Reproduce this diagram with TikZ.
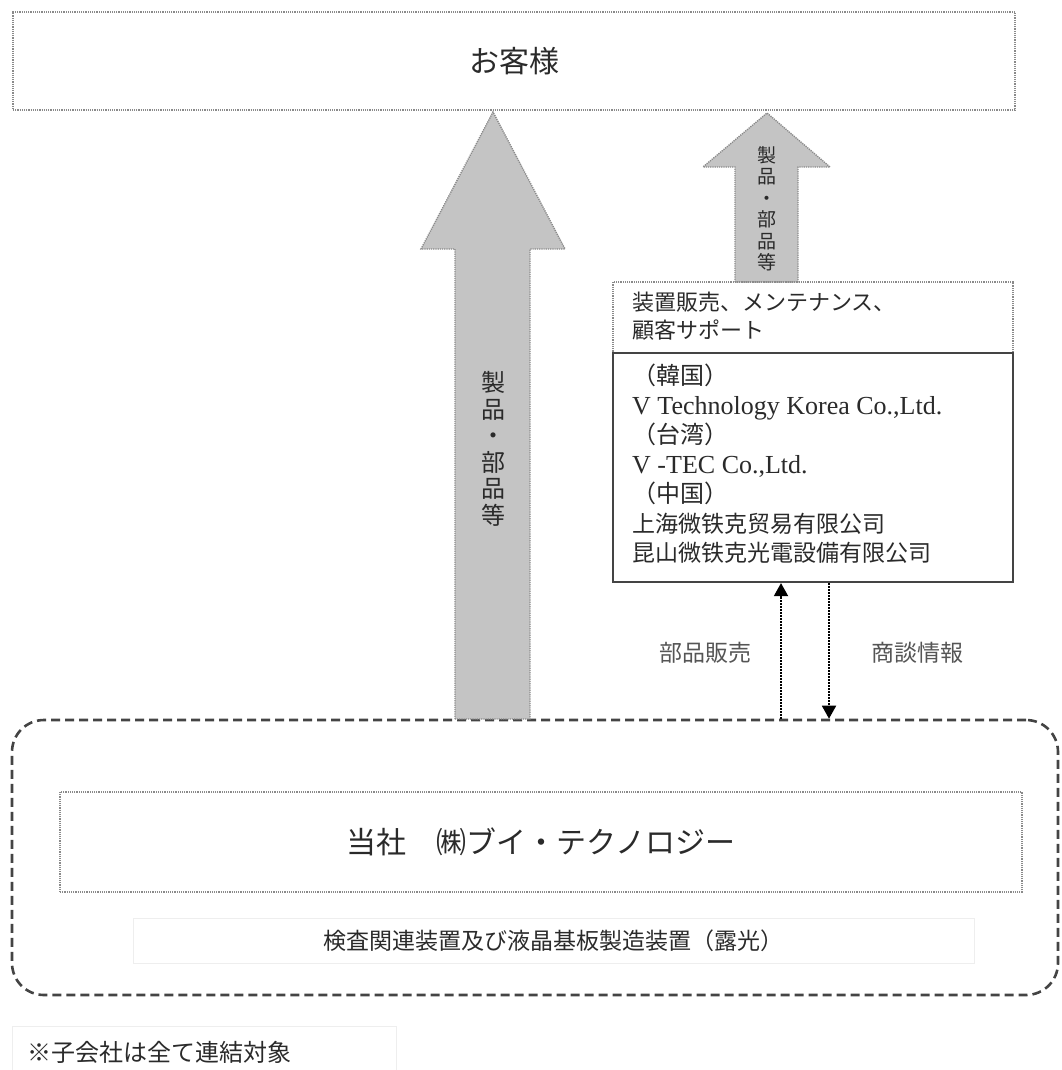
\documentclass[tikz,border=0pt]{standalone}
\usepackage{fontspec}
\setmainfont{Liberation Serif}
\newfontfamily\jp{Noto Sans CJK JP}
\usetikzlibrary{arrows.meta}
\definecolor{txt}{HTML}{2A2A2A}
\definecolor{lbl}{HTML}{555555}
\definecolor{afill}{HTML}{C4C4C4}
\definecolor{dotc}{HTML}{8A8A8A}
\definecolor{dashc}{HTML}{444444}
\definecolor{faint}{HTML}{EEEEEE}
\begin{document}
\begin{tikzpicture}[x=1pt,y=-1pt,
  dotbox/.style={draw=dotc, line width=1.8pt, dash pattern=on 1.2pt off 1pt, inner sep=0pt},
  faintbox/.style={draw=faint, line width=0.8pt, inner sep=0pt},
  bigarrow/.style={fill=afill, draw=dotc, line width=1.4pt, dash pattern=on 1.2pt off 1pt},
  conn/.style={draw=black, line width=1.8pt, dash pattern=on 1.5pt off 1.5pt,
    -{Triangle[length=13pt,width=14pt]}},
  lbltxt/.style={text=lbl, font=\jp\fontsize{23}{27}\selectfont, inner sep=0pt}
]
\useasboundingbox (0,0) rectangle (1061,1070);

% customer box
\node[dotbox, minimum width=1002pt, minimum height=98pt,
      font=\jp\fontsize{30}{36}\selectfont, text=txt] (cust) at (514,61) {お客様};

% group dashed box
\node[draw=dashc, line width=2.6pt, dash pattern=on 9pt off 5pt, rounded corners=32pt,
      minimum width=1046pt, minimum height=275pt, inner sep=0pt] (grp) at (535,857.5) {};

% company box
\node[dotbox, minimum width=962pt, minimum height=100pt,
      font=\jp\fontsize{30}{36}\selectfont, text=txt] (comp) at (541,842) {当社　㈱ブイ・テクノロジー};

% subtitle box
\node[faintbox, minimum width=841pt, minimum height=45pt,
      font=\jp\fontsize{23}{27}\selectfont, text=txt] (sub) at (553.5,940.5) {検査関連装置及び液晶基板製造装置（露光）};

% footnote box
\draw[faint, line width=0.8pt] (12,1072) -- (12,1026) -- (396,1026) -- (396,1072);
\node[anchor=west, inner sep=0pt, font=\jp\fontsize{24}{28}\selectfont, text=txt] (note) at (27,1052) {※子会社は全て連結対象};

% big arrow
\path[bigarrow] (455,719) -- (455,249) -- (421,249) -- (493,112) -- (565,249) -- (530,249) -- (530,719) -- cycle;
\node[font=\jp\fontsize{24}{26.5}\selectfont, text=txt, align=center, inner sep=0pt] (bigtxt) at (493,449)
  {製\\品\\・\\部\\品\\等};

% small arrow
\path[bigarrow] (735,282) -- (735,167) -- (703,167) -- (767,113) -- (830,167) -- (798,167) -- (798,282) -- cycle;
\node[font=\jp\fontsize{19}{21.5}\selectfont, text=txt, align=center, inner sep=0pt] (smalltxt) at (767,209)
  {製\\品\\・\\部\\品\\等};

% services box
\node[dotbox, minimum width=400pt, minimum height=71pt] (serv) at (813,317.5) {};
\node[anchor=west, align=left, inner sep=0pt, text=txt,
      font=\jp\fontsize{22}{28}\selectfont] (servtxt) at (632,316)
  {装置販売、メンテナンス、\\顧客サポート};

% subsidiaries box
\node[draw=dashc, line width=2.2pt, minimum width=400pt, minimum height=229pt, inner sep=0pt] (subs) at (813,467.5) {};
\node[anchor=west, align=left, inner sep=0pt, text=txt,
      font=\fontsize{26}{29.5}\selectfont] (substxt) at (632,464)
  {{\jp\fontsize{24}{29.5}\selectfont （韓国）}\\
   V Technology Korea Co.,Ltd.\\
   {\jp\fontsize{24}{29.5}\selectfont （台湾）}\\
   V -TEC Co.,Ltd.\\
   {\jp\fontsize{24}{29.5}\selectfont （中国）}\\
   {\jp\fontsize{23}{29.5}\selectfont 上海微铁克贸易有限公司}\\
   {\jp\fontsize{23}{29.5}\selectfont 昆山微铁克光電設備有限公司}};

% connectors
\coordinate (xu) at (781,0);
\coordinate (xd) at (829,0);
\draw[conn] (grp.north -| xu) -- (subs.south -| xu);
\draw[conn] (subs.south -| xd) -- (grp.north -| xd);
\node[lbltxt] (l1) at (705,653) {部品販売};
\node[lbltxt] (l2) at (917,653) {商談情報};
\end{tikzpicture}
\end{document}
